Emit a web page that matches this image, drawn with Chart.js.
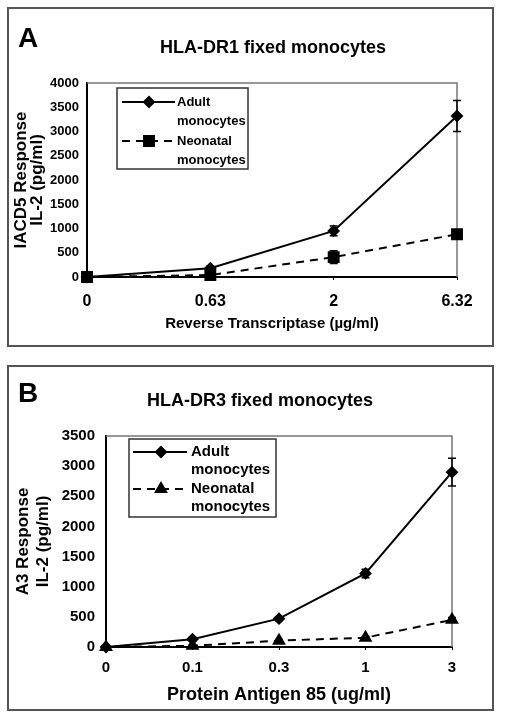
<!DOCTYPE html>
<html>
<head>
<meta charset="utf-8">
<script src="https://cdn.jsdelivr.net/npm/chart.js@4.4.1/dist/chart.umd.min.js"></script>
<style>
  body { margin: 0; background: #fff; width: 505px; height: 719px; position: relative; }
  .panel { position: absolute; left: 7px; width: 487px; box-sizing: border-box; border: 2px solid #555; background: #fff; }
  #panelA { top: 7px; height: 340px; }
  #panelB { top: 365px; height: 346px; }
  canvas { display: block; }
</style>
</head>
<body>
<div class="panel" id="panelA"><canvas id="chartA" width="483" height="336"></canvas></div>
<div class="panel" id="panelB"><canvas id="chartB" width="483" height="342"></canvas></div>
<script>
const FONT = "'Liberation Sans', Arial, sans-serif";

// Panel A - HLA-DR1, reverse transcriptase
const dosesA = ['0', '0.63', '2', '6.32'];
const adultA = [0, 180, 950, 3320];
const adultErrA = [0, 40, 100, 320];
const neonatalA = [0, 40, 410, 880];
const neonatalErrA = [0, 25, 130, 50];
const yMaxA = 4000;

// Panel B - HLA-DR3, protein antigen 85
const dosesB = ['0', '0.1', '0.3', '1', '3'];
const adultB = [0, 130, 470, 1220, 2900];
const adultErrB = [0, 30, 30, 70, 230];
const neonatalB = [0, 20, 105, 155, 450];
const neonatalErrB = [0, 10, 20, 20, 40];
const yMaxB = 3500;

const yStep = 500;
const seriesLabels = [['Adult', 'monocytes'], ['Neonatal', 'monocytes']];

// vertical error bars with caps
const errorBars = {
    id: 'errorBars',
    afterDatasetsDraw(chart) {
        const { ctx } = chart;
        const y = chart.scales.y;
        ctx.save();
        ctx.strokeStyle = '#000';
        ctx.lineWidth = 1.5;
        chart.data.datasets.forEach((ds, i) => {
            if (!ds.errors) return;
            chart.getDatasetMeta(i).data.forEach((pt, j) => {
                const e = ds.errors[j];
                if (!e) return;
                const top = y.getPixelForValue(ds.data[j] + e);
                const bot = y.getPixelForValue(Math.max(0, ds.data[j] - e));
                ctx.beginPath();
                ctx.moveTo(pt.x, top); ctx.lineTo(pt.x, bot);
                ctx.moveTo(pt.x - 4, top); ctx.lineTo(pt.x + 4, top);
                ctx.moveTo(pt.x - 4, bot); ctx.lineTo(pt.x + 4, bot);
                ctx.stroke();
            });
        });
        ctx.restore();
    }
};

// gray top/right edge of the plot box
const frame = {
    id: 'frame',
    beforeDatasetsDraw(chart) {
        const { ctx, chartArea: a } = chart;
        ctx.save();
        ctx.strokeStyle = '#777';
        ctx.lineWidth = 1.5;
        ctx.beginPath();
        ctx.moveTo(a.left, a.top);
        ctx.lineTo(a.right, a.top);
        ctx.lineTo(a.right, a.bottom);
        ctx.stroke();
        ctx.restore();
    }
};

// panel letter and heading
const header = {
    id: 'header',
    afterDraw(chart, args, o) {
        const { ctx } = chart;
        ctx.save();
        ctx.fillStyle = '#000';
        ctx.textBaseline = 'alphabetic';
        ctx.textAlign = 'left';
        ctx.font = 'bold 28px ' + FONT;
        ctx.fillText(o.letter, 9, o.letterY);
        ctx.textAlign = 'center';
        ctx.font = 'bold 18px ' + FONT;
        ctx.fillText(o.title, o.titleX, o.titleY);
        ctx.restore();
    }
};

// boxed legend with two-line labels
const boxLegend = {
    id: 'boxLegend',
    afterDraw(chart, args, o) {
        const { ctx } = chart;
        ctx.save();
        ctx.strokeStyle = '#333';
        ctx.lineWidth = 1.5;
        ctx.strokeRect(o.x, o.y, o.w, o.h);
        ctx.font = 'bold ' + o.fontSize + 'px ' + FONT;
        ctx.fillStyle = '#000';
        ctx.textBaseline = 'middle';
        ctx.textAlign = 'left';
        chart.data.datasets.forEach((ds, i) => {
            const ry = o.rows[i];
            ctx.strokeStyle = '#000';
            ctx.lineWidth = 2;
            ctx.setLineDash(ds.borderDash || []);
            ctx.beginPath();
            ctx.moveTo(o.x0, ry);
            ctx.lineTo(o.x1, ry);
            ctx.stroke();
            ctx.setLineDash([]);
            ctx.fillStyle = '#000';
            Chart.helpers.drawPoint(ctx, { pointStyle: ds.pointStyle, radius: ds.pointRadius, rotation: 0, borderWidth: 1 }, o.mx, ry);
            ds.label.forEach((line, k) => ctx.fillText(line, o.textX, ry + k * o.gap));
        });
        ctx.restore();
    }
};

function makeChart(id, doses, adult, adultErr, neonatal, neonatalErr, neoStyle, yMax, L) {
    const boldFont = (size, lh) => ({ family: FONT, size: size, weight: 'bold', lineHeight: lh || 1.2 });
    return new Chart(document.getElementById(id), {
        type: 'line',
        data: {
            labels: doses,
            datasets: [
                {
                    label: seriesLabels[0],
                    data: adult,
                    errors: adultErr,
                    borderColor: '#000',
                    borderWidth: 2,
                    pointStyle: 'rectRot',
                    pointRadius: 5,
                    pointBackgroundColor: '#000',
                    pointBorderColor: '#000',
                    tension: 0,
                    clip: false,
                },
                {
                    label: seriesLabels[1],
                    data: neonatal,
                    errors: neonatalErr,
                    borderColor: '#000',
                    borderWidth: 2,
                    borderDash: [8, 6],
                    pointStyle: neoStyle.style,
                    pointRadius: neoStyle.radius,
                    pointBackgroundColor: '#000',
                    pointBorderColor: '#000',
                    tension: 0,
                    clip: false,
                }
            ]
        },
        options: {
            responsive: false,
            animation: false,
            layout: { padding: { left: 0, top: L.top, right: L.right, bottom: 0 } },
            scales: {
                x: {
                    type: 'category',
                    offset: false,
                    afterFit: (s) => { s.height = L.xHeight; },
                    grid: { drawOnChartArea: false, drawTicks: true, tickLength: 3, color: '#000' },
                    border: { color: '#000', width: 2 },
                    ticks: { color: '#000', font: boldFont(L.xTick), padding: L.xTickPad, maxRotation: 0 },
                    title: {
                        display: true,
                        text: L.xTitle,
                        color: '#000',
                        font: boldFont(L.xTitleSize),
                        padding: { top: 0, bottom: L.xTitlePad },
                    }
                },
                y: {
                    min: 0,
                    max: yMax,
                    afterFit: (s) => { s.width = L.yWidth; },
                    grid: { display: false, drawTicks: false, tickLength: 0 },
                    border: { color: '#000', width: 2 },
                    ticks: {
                        stepSize: yStep,
                        color: '#000',
                        font: boldFont(L.yTick),
                        padding: L.yTickPad,
                        callback: (v) => String(v),
                    },
                    title: {
                        display: true,
                        text: L.yTitle,
                        color: '#000',
                        font: boldFont(17, L.yTitleLh),
                        padding: { top: L.yTitlePad, bottom: 0 },
                    }
                }
            },
            plugins: {
                legend: { display: false },
                tooltip: { enabled: false },
                header: L.header,
                boxLegend: L.legend,
            }
        },
        plugins: [frame, errorBars, header, boxLegend]
    });
}

makeChart('chartA', dosesA, adultA, adultErrA, neonatalA, neonatalErrA,
    { style: 'rect', radius: 7 }, yMaxA, {
        top: 74, right: 35, xHeight: 68, yWidth: 78,
        xTick: 16, xTickPad: 12, xTitle: 'Reverse Transcriptase (\u00b5g/ml)', xTitleSize: 15, xTitlePad: 12,
        yTick: 13, yTickPad: 8, yTitle: ['IACD5 Response', 'IL-2 (pg/ml)'], yTitleLh: 0.9, yTitlePad: 5,
        header: { letter: 'A', letterY: 38, title: 'HLA-DR1 fixed monocytes', titleX: 264, titleY: 44 },
        legend: { x: 108, y: 79, w: 131, h: 81, x0: 113, x1: 166, mx: 140, textX: 168, rows: [93, 132], gap: 19, fontSize: 13 },
    });

makeChart('chartB', dosesB, adultB, adultErrB, neonatalB, neonatalErrB,
    { style: 'triangle', radius: 6 }, yMaxB, {
        top: 69, right: 40, xHeight: 62, yWidth: 97,
        xTick: 15, xTickPad: 9, xTitle: 'Protein Antigen 85 (ug/ml)', xTitleSize: 18, xTitlePad: 3,
        yTick: 15, yTickPad: 11, yTitle: ['A3 Response', 'IL-2 (pg/ml)'], yTitleLh: 1.18, yTitlePad: 4,
        header: { letter: 'B', letterY: 35, title: 'HLA-DR3 fixed monocytes', titleX: 251, titleY: 39 },
        legend: { x: 120, y: 72, w: 147, h: 78, x0: 124, x1: 178, mx: 152, textX: 182, rows: [85, 122], gap: 18, fontSize: 15 },
    });
</script>
</body>
</html>
